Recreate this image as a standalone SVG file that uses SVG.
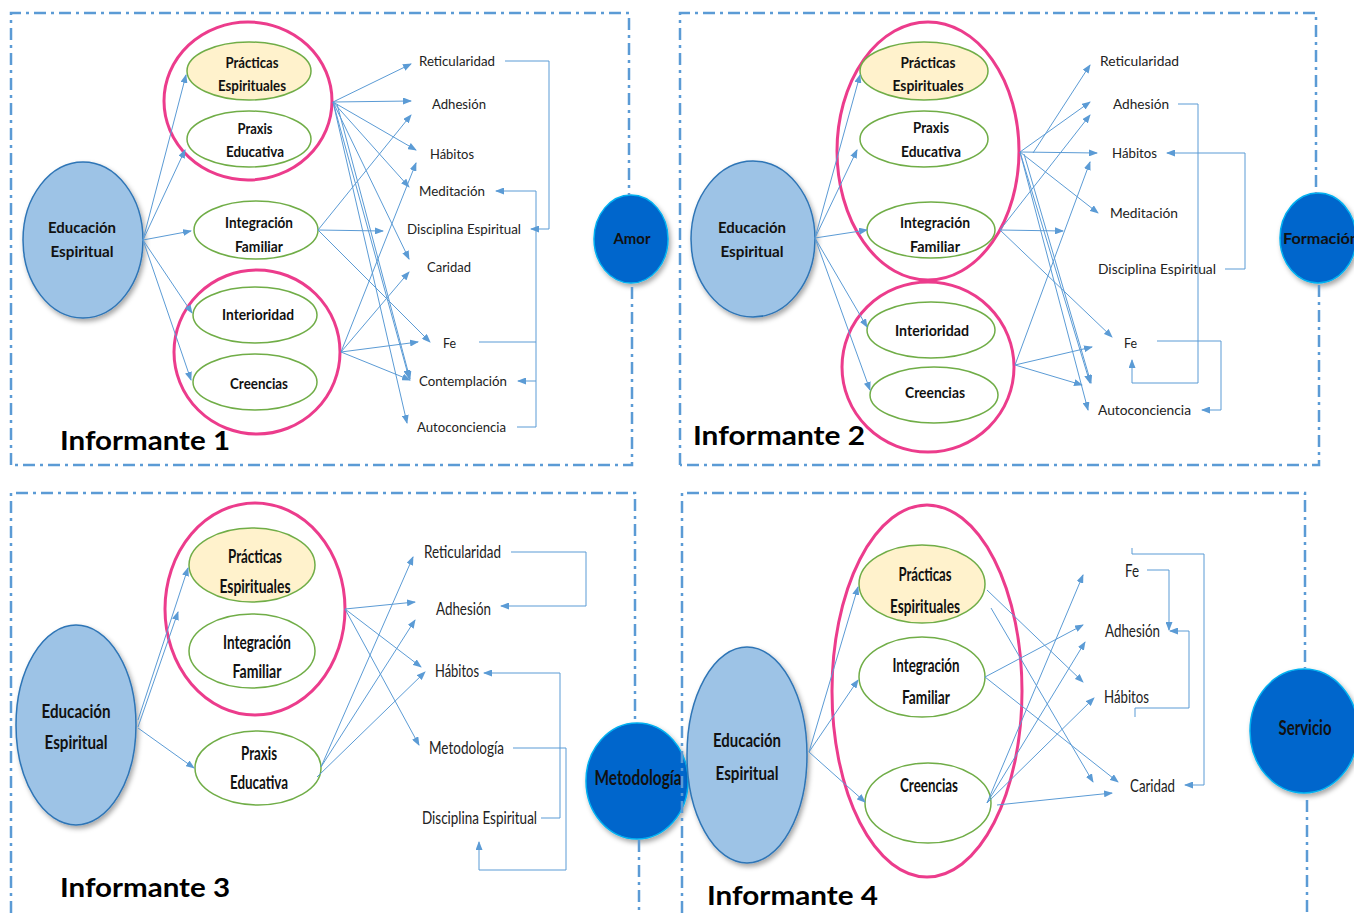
<svg xmlns="http://www.w3.org/2000/svg" width="1354" height="913" viewBox="0 0 1354 913">
<defs>
<marker id="ah" markerUnits="userSpaceOnUse" markerWidth="9" markerHeight="7" refX="8" refY="3.5" orient="auto"><path d="M0,0 L9,3.5 L0,7 z" fill="#5B9BD5"/></marker>
<filter id="sh" x="-20%" y="-20%" width="150%" height="150%"><feDropShadow dx="2" dy="3" stdDeviation="2.5" flood-color="#000" flood-opacity="0.35"/></filter>
</defs>
<style>
.frame{fill:none;stroke:#5B9BD5;stroke-width:2.5;stroke-dasharray:12 5 3 5}
.es{fill:#9DC3E6;stroke:#2E75B6;stroke-width:1.5;filter:url(#sh)}
.pink{fill:none;stroke:#EC3C8C;stroke-width:3}
.g{fill:#fff;stroke:#70AD47;stroke-width:1.5}
.gy{fill:#FFF2CC;stroke:#70AD47;stroke-width:1.5}
.cir{fill:#0066CC;stroke:#00B0F0;stroke-width:1.5;filter:url(#sh)}
.b{font-family:Lato,"Liberation Sans",sans-serif;font-weight:bold;font-size:15px;fill:#111;text-anchor:middle}
.bl{font-family:Lato,"Liberation Sans",sans-serif;font-weight:bold;font-size:19px;fill:#111;text-anchor:middle}
.l{font-family:Lato,"Liberation Sans",sans-serif;font-size:14px;fill:#222}
.ll{font-family:Lato,"Liberation Sans",sans-serif;font-size:18px;fill:#222}
.inf{font-family:Lato,"Liberation Sans",sans-serif;font-weight:bold;font-size:27px;fill:#000}
.c{fill:none;stroke:#5B9BD5;stroke-width:1}
.a{marker-end:url(#ah)}
</style>
<rect width="1354" height="913" fill="#fff"/>

<!-- ============ Informante 1 ============ -->
<g id="q1-es"><ellipse class="es" cx="83" cy="240" rx="60" ry="78"/><text class="b" x="82" y="233" textLength="68" lengthAdjust="spacingAndGlyphs">Educación</text><text class="b" x="82" y="257" textLength="63" lengthAdjust="spacingAndGlyphs">Espiritual</text></g>
<g id="q1-grupo1"><ellipse class="pink" cx="248" cy="101" rx="84" ry="79"/></g>
<g id="q1-practicas"><ellipse class="gy" cx="249" cy="71" rx="62" ry="29"/><text class="b" x="252" y="68" textLength="53" lengthAdjust="spacingAndGlyphs">Prácticas</text><text class="b" x="252" y="91" textLength="68" lengthAdjust="spacingAndGlyphs">Espirituales</text></g>
<g id="q1-praxis"><ellipse class="g" cx="249" cy="139" rx="62" ry="28"/><text class="b" x="255" y="134" textLength="35" lengthAdjust="spacingAndGlyphs">Praxis</text><text class="b" x="255" y="157" textLength="58" lengthAdjust="spacingAndGlyphs">Educativa</text></g>
<g id="q1-integracion"><ellipse class="g" cx="256" cy="230" rx="62" ry="29"/><text class="b" x="259" y="228" textLength="68" lengthAdjust="spacingAndGlyphs">Integración</text><text class="b" x="259" y="252" textLength="48" lengthAdjust="spacingAndGlyphs">Familiar</text></g>
<g id="q1-grupo2"><ellipse class="pink" cx="257" cy="352" rx="83" ry="82"/></g>
<g id="q1-interioridad"><ellipse class="g" cx="255" cy="315" rx="62" ry="28"/><text class="b" x="258" y="320" textLength="72" lengthAdjust="spacingAndGlyphs">Interioridad</text></g>
<g id="q1-creencias"><ellipse class="g" cx="255" cy="382" rx="62" ry="28"/><text class="b" x="259" y="389" textLength="58" lengthAdjust="spacingAndGlyphs">Creencias</text></g>
<g id="q1-labels">
<text class="l" x="419" y="66" textLength="76" lengthAdjust="spacingAndGlyphs">Reticularidad</text>
<text class="l" x="432" y="109" textLength="54" lengthAdjust="spacingAndGlyphs">Adhesión</text>
<text class="l" x="430" y="159" textLength="44" lengthAdjust="spacingAndGlyphs">Hábitos</text>
<text class="l" x="419" y="196" textLength="66" lengthAdjust="spacingAndGlyphs">Meditación</text>
<text class="l" x="407" y="234" textLength="114" lengthAdjust="spacingAndGlyphs">Disciplina Espiritual</text>
<text class="l" x="427" y="272" textLength="44" lengthAdjust="spacingAndGlyphs">Caridad</text>
<text class="l" x="443" y="348" textLength="13" lengthAdjust="spacingAndGlyphs">Fe</text>
<text class="l" x="419" y="386" textLength="88" lengthAdjust="spacingAndGlyphs">Contemplación</text>
<text class="l" x="417" y="432" textLength="89" lengthAdjust="spacingAndGlyphs">Autoconciencia</text>
</g>
<g id="q1-amor"><ellipse class="cir" cx="631" cy="239" rx="37" ry="44"/><text class="b" style="font-size:16px" x="632" y="244" textLength="37" lengthAdjust="spacingAndGlyphs">Amor</text></g>
<text class="inf" x="60" y="450" textLength="170" lengthAdjust="spacingAndGlyphs">Informante 1</text>

<!-- ============ Informante 2 ============ -->
<g id="q2-es"><ellipse class="es" cx="753" cy="239" rx="62" ry="78"/><text class="b" x="752" y="233" textLength="68" lengthAdjust="spacingAndGlyphs">Educación</text><text class="b" x="752" y="257" textLength="63" lengthAdjust="spacingAndGlyphs">Espiritual</text></g>
<g id="q2-grupo1"><ellipse class="pink" cx="928" cy="151" rx="91" ry="129"/></g>
<g id="q2-practicas"><ellipse class="gy" cx="924" cy="71" rx="64" ry="29"/><text class="b" x="928" y="68" textLength="55" lengthAdjust="spacingAndGlyphs">Prácticas</text><text class="b" x="928" y="91" textLength="71" lengthAdjust="spacingAndGlyphs">Espirituales</text></g>
<g id="q2-praxis"><ellipse class="g" cx="924" cy="139" rx="64" ry="28"/><text class="b" x="931" y="133" textLength="36" lengthAdjust="spacingAndGlyphs">Praxis</text><text class="b" x="931" y="157" textLength="60" lengthAdjust="spacingAndGlyphs">Educativa</text></g>
<g id="q2-integracion"><ellipse class="g" cx="931" cy="230" rx="64" ry="28"/><text class="b" x="935" y="228" textLength="70" lengthAdjust="spacingAndGlyphs">Integración</text><text class="b" x="935" y="252" textLength="50" lengthAdjust="spacingAndGlyphs">Familiar</text></g>
<g id="q2-grupo2"><ellipse class="pink" cx="928" cy="367" rx="86" ry="85"/></g>
<g id="q2-interioridad"><ellipse class="g" cx="931" cy="330" rx="64" ry="28"/><text class="b" x="932" y="336" textLength="74" lengthAdjust="spacingAndGlyphs">Interioridad</text></g>
<g id="q2-creencias"><ellipse class="g" cx="934" cy="395" rx="64" ry="28"/><text class="b" x="935" y="398" textLength="60" lengthAdjust="spacingAndGlyphs">Creencias</text></g>
<g id="q2-labels">
<text class="l" x="1100" y="66" textLength="79" lengthAdjust="spacingAndGlyphs">Reticularidad</text>
<text class="l" x="1113" y="109" textLength="56" lengthAdjust="spacingAndGlyphs">Adhesión</text>
<text class="l" x="1112" y="158" textLength="45" lengthAdjust="spacingAndGlyphs">Hábitos</text>
<text class="l" x="1110" y="218" textLength="68" lengthAdjust="spacingAndGlyphs">Meditación</text>
<text class="l" x="1098" y="274" textLength="118" lengthAdjust="spacingAndGlyphs">Disciplina Espiritual</text>
<text class="l" x="1124" y="348" textLength="13" lengthAdjust="spacingAndGlyphs">Fe</text>
<text class="l" x="1098" y="415" textLength="93" lengthAdjust="spacingAndGlyphs">Autoconciencia</text>
</g>
<g id="q2-formacion"><ellipse class="cir" cx="1318" cy="238" rx="38" ry="45"/><text class="b" style="font-size:16px;text-anchor:start" x="1283" y="244" textLength="76" lengthAdjust="spacingAndGlyphs">Formación</text></g>
<text class="inf" x="693" y="445" textLength="172" lengthAdjust="spacingAndGlyphs">Informante 2</text>

<!-- ============ Informante 3 ============ -->
<g id="q3-es"><ellipse class="es" cx="76" cy="725" rx="60" ry="100"/><text class="bl" x="76" y="718" textLength="69" lengthAdjust="spacingAndGlyphs">Educación</text><text class="bl" x="76" y="749" textLength="63" lengthAdjust="spacingAndGlyphs">Espiritual</text></g>
<g id="q3-grupo1"><ellipse class="pink" cx="255" cy="609" rx="90" ry="106"/></g>
<g id="q3-practicas"><ellipse class="gy" cx="252" cy="565" rx="63" ry="37"/><text class="bl" x="255" y="563" textLength="54" lengthAdjust="spacingAndGlyphs">Prácticas</text><text class="bl" x="255" y="593" textLength="71" lengthAdjust="spacingAndGlyphs">Espirituales</text></g>
<g id="q3-integracion"><ellipse class="g" cx="252" cy="651" rx="63" ry="37"/><text class="bl" x="257" y="649" textLength="68" lengthAdjust="spacingAndGlyphs">Integración</text><text class="bl" x="257" y="678" textLength="49" lengthAdjust="spacingAndGlyphs">Familiar</text></g>
<g id="q3-praxis"><ellipse class="g" cx="258" cy="768" rx="63" ry="37"/><text class="bl" x="259" y="760" textLength="36" lengthAdjust="spacingAndGlyphs">Praxis</text><text class="bl" x="259" y="789" textLength="58" lengthAdjust="spacingAndGlyphs">Educativa</text></g>
<g id="q3-labels">
<text class="ll" x="424" y="558" textLength="77" lengthAdjust="spacingAndGlyphs">Reticularidad</text>
<text class="ll" x="436" y="615" textLength="55" lengthAdjust="spacingAndGlyphs">Adhesión</text>
<text class="ll" x="435" y="677" textLength="44" lengthAdjust="spacingAndGlyphs">Hábitos</text>
<text class="ll" x="429" y="754" textLength="75" lengthAdjust="spacingAndGlyphs">Metodología</text>
<text class="ll" x="422" y="824" textLength="115" lengthAdjust="spacingAndGlyphs">Disciplina Espiritual</text>
</g>
<g id="q3-metodologia"><ellipse class="cir" cx="637" cy="781" rx="51" ry="58"/><text class="bl" style="font-size:20px" x="638" y="785" textLength="87" lengthAdjust="spacingAndGlyphs">Metodología</text></g>
<text class="inf" x="60" y="897" textLength="170" lengthAdjust="spacingAndGlyphs">Informante 3</text>

<!-- ============ Informante 4 ============ -->
<g id="q4-es"><ellipse class="es" cx="747" cy="755" rx="60" ry="108"/><text class="bl" x="747" y="747" textLength="68" lengthAdjust="spacingAndGlyphs">Educación</text><text class="bl" x="747" y="780" textLength="63" lengthAdjust="spacingAndGlyphs">Espiritual</text></g>
<g id="q4-grupo"><ellipse class="pink" cx="927" cy="691" rx="95" ry="186"/></g>
<g id="q4-practicas"><ellipse class="gy" cx="922" cy="584" rx="63" ry="39"/><text class="bl" x="925" y="581" textLength="53" lengthAdjust="spacingAndGlyphs">Prácticas</text><text class="bl" x="925" y="613" textLength="70" lengthAdjust="spacingAndGlyphs">Espirituales</text></g>
<g id="q4-integracion"><ellipse class="g" cx="922" cy="677" rx="63" ry="40"/><text class="bl" x="926" y="672" textLength="67" lengthAdjust="spacingAndGlyphs">Integración</text><text class="bl" x="926" y="704" textLength="48" lengthAdjust="spacingAndGlyphs">Familiar</text></g>
<g id="q4-creencias"><ellipse class="g" cx="928" cy="803" rx="63" ry="40"/><text class="bl" x="929" y="792" textLength="58" lengthAdjust="spacingAndGlyphs">Creencias</text></g>
<g id="q4-labels">
<text class="ll" x="1125" y="577" textLength="14" lengthAdjust="spacingAndGlyphs">Fe</text>
<text class="ll" x="1105" y="637" textLength="55" lengthAdjust="spacingAndGlyphs">Adhesión</text>
<text class="ll" x="1104" y="703" textLength="45" lengthAdjust="spacingAndGlyphs">Hábitos</text>
<text class="ll" x="1130" y="792" textLength="45" lengthAdjust="spacingAndGlyphs">Caridad</text>
</g>
<g id="q4-servicio"><ellipse class="cir" cx="1304" cy="731" rx="54" ry="62"/><text class="bl" style="font-size:20px" x="1305" y="735" textLength="53" lengthAdjust="spacingAndGlyphs">Servicio</text></g>
<text class="inf" x="707" y="905" textLength="171" lengthAdjust="spacingAndGlyphs">Informante 4</text>

<!-- ============ Connectors ============ -->
<g id="connectors">
<g id="q1-con">
<path class="c a" d="M143,240 L186,75"/>
<path class="c a" d="M143,240 L185,150"/>
<path class="c a" d="M143,240 L191,231"/>
<path class="c a" d="M143,240 L192,313"/>
<path class="c a" d="M143,240 L191,380"/>
<path class="c a" d="M333,102 L411,64"/>
<path class="c a" d="M333,102 L411,101"/>
<path class="c a" d="M333,102 L416,150"/>
<path class="c a" d="M333,102 L409,187"/>
<path class="c a" d="M333,102 L409,259"/>
<path class="c a" d="M333,102 L409,378"/>
<path class="c a" d="M337,104 L410,379"/>
<path class="c a" d="M333,102 L407,423"/>
<path class="c a" d="M318,230 L411,115"/>
<path class="c a" d="M318,230 L383,231"/>
<path class="c a" d="M318,230 L430,342"/>
<path class="c a" d="M341,352 L416,163"/>
<path class="c a" d="M341,352 L409,272"/>
<path class="c a" d="M341,352 L418,342"/>
<path class="c a" d="M341,352 L410,380"/>
<path class="c a" d="M505,61 H549 V229 H531"/>
<path class="c a" d="M517,427 H536 V191 H496"/>
<path class="c" d="M479,342 H536"/>
<path class="c a" d="M536,381 H518"/>
</g>
<g id="q2-con">
<path class="c a" d="M815,238 L860,75"/>
<path class="c a" d="M815,238 L857,150"/>
<path class="c a" d="M815,238 L867,230"/>
<path class="c a" d="M815,238 L867,327"/>
<path class="c a" d="M815,238 L870,390"/>
<path class="c a" d="M1033,153 L1090,65"/>
<path class="c a" d="M1020,152 L1090,102"/>
<path class="c a" d="M1020,152 L1097,153"/>
<path class="c a" d="M1020,152 L1098,213"/>
<path class="c a" d="M1020,152 L1090,383"/>
<path class="c a" d="M1024,154 L1091,383"/>
<path class="c a" d="M1020,152 L1088,410"/>
<path class="c a" d="M1000,230 L1090,115"/>
<path class="c a" d="M1000,230 L1063,231"/>
<path class="c a" d="M1000,230 L1112,337"/>
<path class="c a" d="M1015,365 L1090,162"/>
<path class="c a" d="M1015,365 L1092,347"/>
<path class="c a" d="M1015,365 L1082,385"/>
<path class="c a" d="M1178,104 H1198 V383 H1132 V360"/>
<path class="c a" d="M1225,269 H1245 V153 H1167"/>
<path class="c a" d="M1157,341 H1221 V410 H1202"/>
</g>
<g id="q3-con">
<path class="c a" d="M138,720 L188,568"/>
<path class="c a" d="M138,727 L178,612"/>
<path class="c a" d="M138,728 L194,768"/>
<path class="c a" d="M345,609 L415,602"/>
<path class="c a" d="M345,609 L421,667"/>
<path class="c a" d="M345,609 L419,745"/>
<path class="c a" d="M321,767 L413,557"/>
<path class="c a" d="M321,767 L415,620"/>
<path class="c a" d="M317,777 L425,672"/>
<path class="c a" d="M511,552 H586 V606 H501"/>
<path class="c a" d="M541,818 H560 V673 H484"/>
<path class="c a" d="M513,748 H566 V870 H479 V842"/>
</g>
<g id="q4-con">
<path class="c a" d="M809,752 L858,587"/>
<path class="c a" d="M809,752 L858,680"/>
<path class="c a" d="M809,752 L865,802"/>
<path class="c a" d="M987,590 L1083,682"/>
<path class="c a" d="M991,608 L1093,782"/>
<path class="c a" d="M985,677 L1083,625"/>
<path class="c a" d="M985,677 L1118,782"/>
<path class="c a" d="M987,803 L1083,575"/>
<path class="c a" d="M987,803 L1085,642"/>
<path class="c a" d="M987,803 L1094,698"/>
<path class="c a" d="M997,805 L1112,793"/>
<path class="c a" d="M1132,548 V554 H1204 V785 H1185"/>
<path class="c a" d="M1147,570 H1169 V630"/>
<path class="c a" d="M1135,717 V708 H1189 V631 H1170"/>
</g>
</g>

<!-- ============ Frames ============ -->
<g id="frames">
<path class="frame" d="M11,465 V13 H629 V195"/>
<path class="frame" d="M632,287 V465 H11"/>
<path class="frame" d="M680,465 V13 H1316 V193"/>
<path class="frame" d="M1319,285 V465 H680"/>
<path class="frame" d="M11,913 V493 H635 V723"/>
<path class="frame" d="M639,840 V913"/>
<path class="frame" d="M682,913 V493 H1305 V668"/>
<path class="frame" d="M1307,800 V913"/>
</g>
</svg>
